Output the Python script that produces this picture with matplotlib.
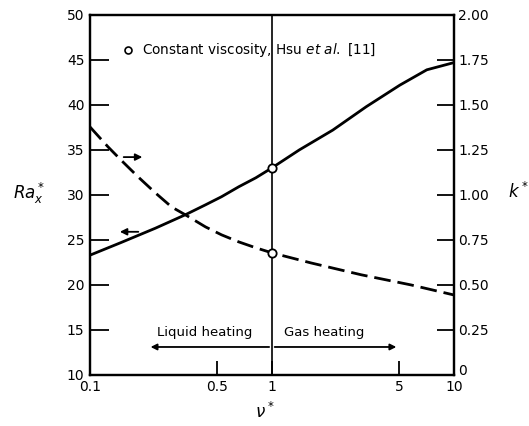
import numpy as np
import matplotlib
matplotlib.use('Agg')
import matplotlib.pyplot as plt
import matplotlib.transforms as mtransforms

# solid curve, read on left axis (Ra_x*)
nu_ra = [0.1, 0.148, 0.229, 0.335, 0.432, 0.529, 0.657, 0.816, 1.0, 1.415, 2.16, 3.3, 5.05, 7.1, 10.0]
ra = [23.3, 24.7, 26.3, 27.8, 28.9, 29.8, 30.9, 31.9, 33.0, 35.0, 37.2, 39.8, 42.2, 43.9, 44.7]

# dashed curve, read on right axis (k*)
nu_k = [0.1, 0.1257, 0.148, 0.184, 0.229, 0.281, 0.335, 0.432, 0.529, 0.657, 0.816, 1.0,
        1.64, 3.1, 5.8, 8.9, 10.0]
kk = [1.378, 1.267, 1.194, 1.10, 1.011, 0.933, 0.889, 0.822, 0.778, 0.739, 0.706, 0.678,
      0.622, 0.556, 0.50, 0.456, 0.444]

# constant viscosity points (Hsu et al.)
nu_pts = [1.0]
ra_pts = [33.0]
k_pts = [0.678]

xticks = [0.1, 0.5, 1, 5, 10]
xticklabels = ['0.1', '0.5', '1', '5', '10']
ra_ticks = [10, 15, 20, 25, 30, 35, 40, 45, 50]
k_ticks = [0, 0.25, 0.5, 0.75, 1.0, 1.25, 1.5, 1.75, 2.0]
k_ticklabels = ['0', '0.25', '0.50', '0.75', '1.00', '1.25', '1.50', '1.75', '2.00']

fig = plt.figure(figsize=(5.29, 4.26), dpi=100)
ax = fig.add_axes([0.170, 0.120, 0.688, 0.845])
ax2 = ax.twinx()

ax.set_xscale('log')
ax.set_xlim(0.1, 10)
ax.set_ylim(10, 50)
ax2.set_ylim(0, 2)

ax.plot(nu_ra, ra, color='black', lw=2, zorder=3)
ax2.plot(nu_k, kk, color='black', lw=2, ls=(0, (6, 2.5)), zorder=3)
ax.plot(nu_pts, ra_pts, 'o', ms=6, mfc='white', mec='black', mew=1.3, zorder=5)
ax2.plot(nu_pts, k_pts, 'o', ms=6, mfc='white', mec='black', mew=1.3, zorder=5)

ax.axvline(1, color='black', lw=1.2)

for a in (ax, ax2):
    for s in a.spines.values():
        s.set_linewidth(1.6)

ax.set_xticks(xticks)
ax.set_xticklabels(xticklabels)
ax.minorticks_off()
ax.tick_params(axis='x', direction='in', length=10, width=1.3, labelsize=10, pad=4)
ax.set_yticks(ra_ticks)
ax.tick_params(axis='y', direction='in', length=14, width=1.3, labelsize=10, pad=4)
ax2.set_yticks(k_ticks)
ax2.set_yticklabels(k_ticklabels)
ax2.tick_params(axis='y', direction='in', length=12, width=1.3, labelsize=10, pad=3)

# lift the right-hand "0" a little so it clears the "10" below it
lbl0 = ax2.get_yticklabels()[0]
lbl0.set_transform(lbl0.get_transform() + mtransforms.ScaledTranslation(0, 4 / 72, fig.dpi_scale_trans))

fig.text(0.055, 0.547, r'$Ra_x^*$', fontsize=12, ha='center', va='center')
fig.text(0.980, 0.550, r'$k^*$', fontsize=12, ha='center', va='center')
fig.text(0.500, 0.010, r'$\nu^*$', fontsize=12, ha='center', va='bottom')

# legend note
ax.plot([0.162], [46.1], 'o', ms=5, mfc='white', mec='black', mew=1.2)
ax.text(0.193, 46.1, r'Constant viscosity, Hsu $\it{et\ al.}$ [11]', fontsize=9.8, va='center')

# curve arrows
ax.annotate('', xy=(0.141, 25.9), xytext=(0.191, 25.9),
            arrowprops=dict(arrowstyle='-|>', color='black', lw=1.3, mutation_scale=10))
ax.annotate('', xy=(0.201, 34.2), xytext=(0.148, 34.2),
            arrowprops=dict(arrowstyle='-|>', color='black', lw=1.3, mutation_scale=10))

# heating arrows
ax.annotate('', xy=(0.208, 13.1), xytext=(1.0, 13.1),
            arrowprops=dict(arrowstyle='-|>', color='black', lw=1.3, mutation_scale=9))
ax.annotate('', xy=(5.0, 13.1), xytext=(1.0, 13.1),
            arrowprops=dict(arrowstyle='-|>', color='black', lw=1.3, mutation_scale=9))
ax.text(0.233, 14.0, 'Liquid heating', fontsize=9.5, va='bottom')
ax.text(1.17, 14.0, 'Gas heating', fontsize=9.5, va='bottom')

fig.savefig('out.png', dpi=100)
